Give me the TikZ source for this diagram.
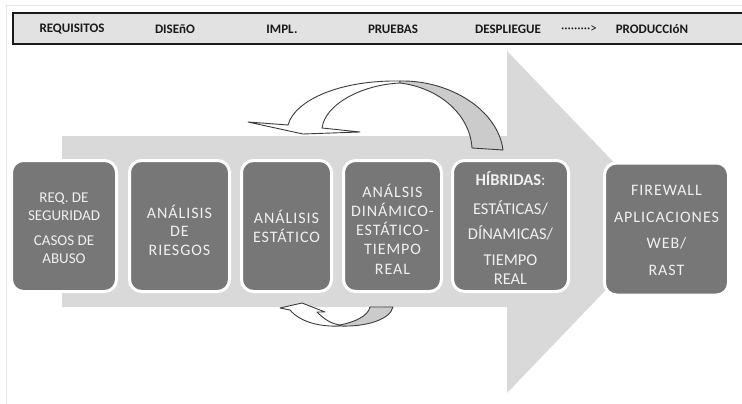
\documentclass[tikz,border=0pt]{standalone}
\usepackage{fontspec}
\setmainfont{Carlito}
\definecolor{boxgray}{HTML}{777777}
\definecolor{txtlight}{HTML}{F0F0F0}
\definecolor{arrowgray}{HTML}{D9D9D9}
\definecolor{hdrfill}{HTML}{E2E2E2}
\definecolor{curveline}{HTML}{3C3C3C}
\definecolor{bandgray}{HTML}{CBCBCB}
\definecolor{framegray}{HTML}{E6E6E6}
\begin{document}
\begin{tikzpicture}[x=1pt,y=-1pt,
  stagebox/.style={draw=white, line width=3pt, fill=boxgray, rounded corners=12pt, inner sep=0pt},
  stagetext/.style={text=txtlight, align=center, inner sep=0pt, font=\fontsize{16}{18.5}\selectfont\addfontfeature{LetterSpace=6}},
  hdrtext/.style={text=black!90, inner sep=0pt, font=\fontsize{13}{15}\selectfont\bfseries},
  ribbon/.style={draw=curveline, line width=0.9pt, line join=round}]
\useasboundingbox (0,0) rectangle (742,404);
\fill[white] (0,0) rectangle (742,404);
\draw[framegray, line width=1pt] (6,404) -- (6,6) -- (742,6);

% header bar
\fill[hdrfill] (13,13) rectangle (742,44);
\draw[black!90, line width=1.8pt] (742,13) -- (13,13) -- (13,44) -- (742,44);
\node[hdrtext] (h1) at (72,29.5) {REQUISITOS};
\node[hdrtext] (h2) at (175,29.5) {DISEñO};
\node[hdrtext] (h3) at (282,29.5) {IMPL.};
\node[hdrtext] (h4) at (393,29.5) {PRUEBAS};
\node[hdrtext] (h5) at (508,29.5) {DESPLIEGUE};
\node[hdrtext, font=\fontsize{13}{15}\selectfont] (h6) at (579,29.5) {·········>};
\node[hdrtext] (h7) at (652,29.5) {PRODUCCIóN};

% big arrow
\fill[arrowgray] (62,136) -- (507,136) -- (507,51) -- (671,222) -- (507,393) -- (507,307) -- (62,307) -- cycle;

% top curved arrow
\filldraw[ribbon, fill=white] (400,81) .. controls (340,80) and (295,100) .. (288,125)
  -- (248,122) -- (303,134) -- (360,132) -- (322,128)
  .. controls (325,105) and (360,85) .. (400,83) -- cycle;
\filldraw[ribbon, fill=bandgray] (400,81) .. controls (450,80) and (498,110) .. (503,150)
  -- (472,148) .. controls (470,115) and (440,88) .. (400,83) -- cycle;

% bottom curved arrow
\filldraw[ribbon, fill=white] (290,310) -- (280,308) -- (302,303) -- (325,312) -- (317,312)
  .. controls (325,320) and (332,324) .. (340,325) -- (340,326)
  .. controls (320,327) and (300,322) .. (290,310) -- cycle;
\filldraw[ribbon, fill=bandgray] (340,326) .. controls (365,327) and (390,320) .. (393,307)
  -- (370,307) .. controls (368,316) and (355,322) .. (340,325) -- cycle;

% stage boxes
\node[stagebox, minimum width=105pt, minimum height=131pt] (b1) at (64,226) {};
\node[stagebox, minimum width=100pt, minimum height=131pt] (b2) at (179.5,226) {};
\node[stagebox, minimum width=90pt, minimum height=131pt] (b3) at (286.5,226) {};
\node[stagebox, minimum width=98pt, minimum height=131pt] (b4) at (392.5,226) {};
\node[stagebox, minimum width=116pt, minimum height=131pt] (b5) at (510.5,226) {};
\node[stagebox, minimum width=124pt, minimum height=132pt] (b6) at (666.5,229) {};

\node[stagetext, font=\fontsize{15}{18}\selectfont] (t1) at (64,228) {REQ. DE\\SEGURIDAD\\[7pt]CASOS DE\\ABUSO};
\node[stagetext] (t2) at (179.5,230) {ANÁLISIS\\DE\\RIESGOS};
\node[stagetext] (t3) at (286.5,226.5) {ANÁLISIS\\ESTÁTICO};
\node[stagetext, font=\fontsize{16}{19.2}\selectfont\addfontfeature{LetterSpace=6}] (t4) at (392.5,229) {ANÁLSIS\\DINÁMICO-\\ESTÁTICO-\\TIEMPO\\REAL};
\node[stagetext, font=\fontsize{16.5}{18.5}\selectfont] (t5) at (510.5,228) {\textbf{HÍBRIDAS}:\\[10.5pt]ESTÁTICAS/\\[6.5pt]DÍNAMICAS/\\[7.5pt]TIEMPO\\REAL};
\node[stagetext, font=\fontsize{16}{18.5}\selectfont\addfontfeature{LetterSpace=6}] (t6) at (666.5,230.5) {FIREWALL\\[8pt]APLICACIONES\\[8pt]WEB/\\[8pt]RAST};
\end{tikzpicture}
\end{document}
